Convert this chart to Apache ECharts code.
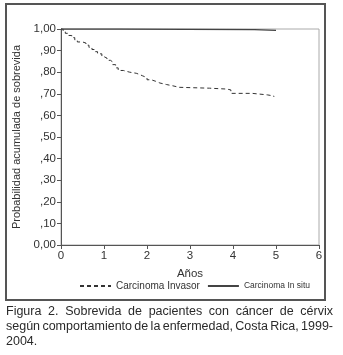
<!DOCTYPE html>
<html>
<head>
<meta charset="utf-8">
<script src="https://cdn.jsdelivr.net/npm/echarts@6/dist/echarts.min.js"></script>
<style>
  html, body { margin: 0; padding: 0; background: #fff; }
  #chart { width: 343px; height: 355px; }
</style>
</head>
<body>
<div id="chart"></div>
<script>
// datos (Kaplan-Meier, pasos)
var invasorX = [0, 0.05, 0.1, 0.18, 0.25, 0.32, 0.38, 0.5, 0.58, 0.65, 0.72, 0.8, 0.85, 0.95, 1.0, 1.07, 1.15, 1.2, 1.27, 1.33, 1.45, 1.6, 1.75, 1.82, 1.9, 2.0, 2.1, 2.2, 2.3, 2.45, 2.6, 2.75, 3.45, 3.85, 3.95, 4.45, 4.8, 4.95];
var invasorY = [1.0, 0.99, 0.98, 0.97, 0.96, 0.95, 0.94, 0.935, 0.925, 0.915, 0.905, 0.895, 0.885, 0.872, 0.865, 0.855, 0.848, 0.835, 0.82, 0.808, 0.80, 0.795, 0.79, 0.783, 0.775, 0.765, 0.758, 0.75, 0.743, 0.737, 0.73, 0.726, 0.722, 0.718, 0.702, 0.695, 0.69, 0.686];
var insituX = [0, 1.35, 4.5, 5.0];
var insituY = [1.0, 0.997, 0.994, 0.993];
var yTickLabels = ['0,00', ',10', ',20', ',30', ',40', ',50', ',60', ',70', ',80', ',90', '1,00'];
var seriesNames = ['Carcinoma Invasor', 'Carcinoma In situ'];
var captionLines = [
  'Figura 2. Sobrevida de pacientes con cáncer de cérvix',
  'según comportamiento de la enfermedad, Costa Rica, 1999-',
  '2004.'
];

function zip(xs, ys) {
  var out = [];
  for (var i = 0; i < xs.length; i++) out.push([xs[i], ys[i]]);
  return out;
}

// texto justificado para el pie de figura
var capFont = '12.5px "Liberation Sans", Arial, sans-serif';
var ctx = document.createElement('canvas').getContext('2d');
ctx.font = capFont;
function captionGraphics() {
  var els = [];
  var left = 6, right = 333, tops = [305, 320, 335];
  for (var l = 0; l < captionLines.length; l++) {
    var words = captionLines[l].split(' ');
    var last = l == captionLines.length - 1;
    var total = 0;
    for (var i = 0; i < words.length; i++) total += ctx.measureText(words[i]).width;
    var gap = (words.length > 1 && !last) ? (right - left - total) / (words.length - 1) : ctx.measureText(' ').width;
    var x = left;
    for (var j = 0; j < words.length; j++) {
      els.push({
        type: 'text', left: x, top: tops[l],
        style: { text: words[j], font: capFont, fill: '#2a2a2a' }
      });
      x += ctx.measureText(words[j]).width + gap;
    }
  }
  return els;
}

var myChart = echarts.init(document.getElementById('chart'));
var option = {
  animation: false,
  backgroundColor: '#fff',
  grid: {
    left: 61, right: 24, top: 29, bottom: 110,
    show: true, borderColor: '#aaa', borderWidth: 1
  },
  legend: {
    left: 79, top: 281, width: 260, orient: 'horizontal', padding: 0,
    itemWidth: 31, itemHeight: 8, itemGap: 7,
    data: seriesNames,
    itemStyle: { opacity: 0 },
    formatter: function (name) {
      return name == seriesNames[0] ? '{a|' + name + '}' : '{b|' + name + '}';
    },
    textStyle: {
      color: '#333',
      rich: {
        a: { fontFamily: 'Liberation Sans', fontSize: 10, color: '#333' },
        b: { fontFamily: 'Liberation Sans', fontSize: 8.5, color: '#333' }
      }
    }
  },
  xAxis: {
    type: 'value', min: 0, max: 6, interval: 1,
    name: 'Años', nameLocation: 'middle', nameGap: 23,
    nameTextStyle: { fontFamily: 'Liberation Sans', fontSize: 11.5, color: '#333' },
    axisLine: { lineStyle: { color: '#555', width: 1 } },
    axisTick: { length: 4, lineStyle: { color: '#555' } },
    axisLabel: { fontFamily: 'Liberation Sans', fontSize: 11.5, color: '#333', margin: 5 },
    splitLine: { show: false }
  },
  yAxis: {
    type: 'value', min: 0, max: 1, interval: 0.1,
    name: 'Probabilidad acumulada de sobrevida', nameLocation: 'middle', nameGap: 33,
    nameTextStyle: { fontFamily: 'Liberation Sans', fontSize: 11, color: '#333' },
    axisLine: { lineStyle: { color: '#555', width: 1 } },
    axisTick: { length: 4, lineStyle: { color: '#555' } },
    axisLabel: {
      fontFamily: 'Liberation Sans', fontSize: 11.5, color: '#333', margin: 5,
      formatter: function (v) { return yTickLabels[Math.round(v * 10)]; }
    },
    splitLine: { show: false }
  },
  series: [{
    name: seriesNames[0], type: 'line', step: 'end', symbol: 'none',
    data: zip(invasorX, invasorY),
    lineStyle: { color: '#333', width: 1, type: [4, 3] },
    itemStyle: { color: '#333' }
  }, {
    name: seriesNames[1], type: 'line', step: 'end', symbol: 'none',
    data: zip(insituX, insituY),
    lineStyle: { color: '#444', width: 1.3 },
    itemStyle: { color: '#444' }
  }],
  graphic: [{
    type: 'rect', shape: { x: 6, y: 4, width: 319, height: 296 },
    style: { fill: 'none', stroke: '#555', lineWidth: 2 }, silent: true
  }].concat(captionGraphics())
};
myChart.setOption(option);
</script>
</body>
</html>
